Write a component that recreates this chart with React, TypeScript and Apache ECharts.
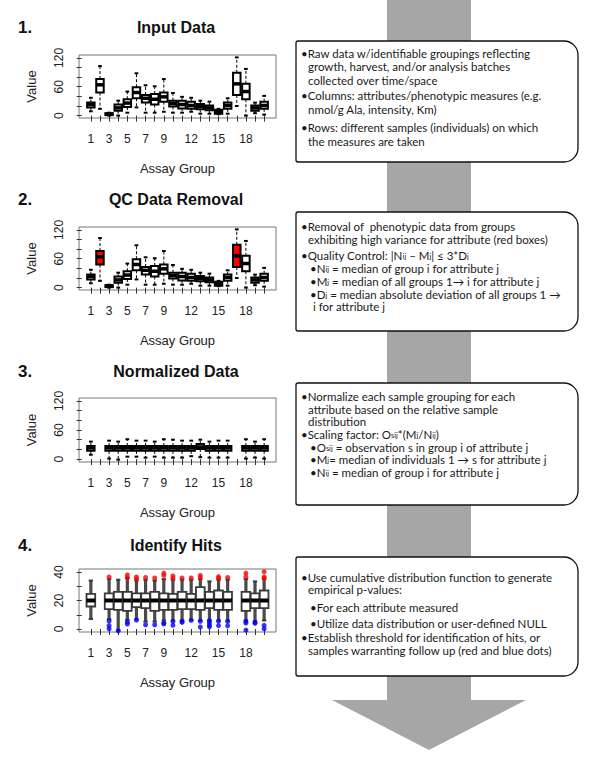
import React, { useEffect, useRef } from 'react';
import * as echarts from 'echarts';

// ---------- data ----------
const assayGroups = [1, 2, 3, 4, 5, 6, 7, 8, 9, 10, 11, 12, 13, 14, 15, 16, 17, 18, 19, 20];
const groupLabels = [1, 3, 5, 7, 9, 12, 15, 18];
const valueTicks = [0, 20, 40, 60, 80, 100, 120];
const valueLabels = [0, 60, 120];
const hitTicks = [0, 10, 20, 30, 40];
const hitLabels = [0, 20, 40];

// Panels 1 & 2: raw data boxes
const rawLow = [9, 14, 0, 0, 6, 17, 6, 6, 8, 6, 6, 8, 4, 4, 3, 4, 20, 0, 5, 2];
const rawQ1 = [17, 48, 1, 10, 18, 36, 27, 23, 29, 19, 15, 14, 13, 11, 4, 14, 43, 34, 10, 14];
const rawMedian = [23, 64, 3, 16, 26, 48, 36, 34, 39, 25, 23, 21, 19, 16, 8, 21, 66, 50, 16, 21];
const rawQ3 = [27, 76, 5, 23, 34, 59, 43, 45, 48, 31, 31, 29, 24, 21, 12, 27, 89, 66, 21, 29];
const rawHigh = [37, 103, 6, 31, 50, 88, 63, 61, 76, 47, 39, 37, 31, 29, 14, 36, 121, 97, 27, 41];
const qcFlagged = [2, 17];

// Panel 3: normalized
const normGroups = [1, 3, 4, 5, 6, 7, 8, 9, 10, 11, 12, 13, 14, 15, 16, 18, 19, 20];
const normLow = [9, 1, -1, 5, 5, 3, 5, 3, 3, 3, 6, 4, 3, 3, 3, 1, 3, 1];
const normQ1 = [17, 17, 17, 17, 17, 17, 17, 17, 17, 17, 17, 21, 17, 17, 17, 17, 17, 17];
const normMedian = [23, 23, 23, 23, 23, 23, 23, 23, 23, 23, 23, 25, 23, 23, 23, 23, 23, 23];
const normQ3 = [27, 27, 27, 27, 27, 27, 27, 27, 27, 27, 27, 31, 27, 27, 27, 27, 27, 27];
const normHigh = [36, 38, 36, 41, 38, 38, 36, 41, 40, 38, 38, 40, 36, 38, 38, 41, 36, 41];

// Panel 4: hits
const hitLow = [7, 6.8, -1.2, 6.4, 6.8, 5.2, 5.2, 6, 6, 6, 6.5, 6, 6, 6, 6, 6, 5.5, 6];
const hitQ1 = [15.8, 14, 13.4, 12.7, 15.3, 14.6, 12.7, 13.4, 13.4, 13.9, 13.9, 13.4, 14.6, 13.4, 13.4, 12.7, 14.6, 14.6];
const hitMedian = [20, 20, 20, 20, 20, 20, 20, 20, 20, 20, 20, 20, 20, 20, 20, 20, 20, 20];
const hitQ3 = [24.7, 25, 26, 26, 25, 25, 26, 25, 24.7, 26, 24.7, 29.4, 26, 27, 26, 26, 25, 27];
const hitHigh = [34, 35, 34.6, 35.8, 34, 34.6, 34, 35, 34.6, 34.6, 34.6, 35, 33.4, 34.6, 34.6, 35, 33.4, 35];
const hitRed = [[], [36.5], [], [38, 36], [36.5, 35], [36.2], [35.8], [39.2, 37.6], [37.2, 35.5], [35.8], [35.8], [37.6, 36.2], [], [36.8, 35.6], [36.2], [39.2, 36.5], [], [40.2, 36.6, 35.6]];
const hitBlue = [[], [5.6, 2.4, 0.2], [-1.2], [5, 3.5], [6.2], [3], [3], [4.2, 3.6], [5.2, 2.6], [5.4, 4.6], [6], [5.4, 1.4], [5.8, 4.2, 2.6, 1.6], [5.4, 2.4], [5.2, 2.2], [5.4, 4.2, -0.8], [4.6, 4], [2.6, 0.2]];

// ---------- text ----------
const FONT = 'Lato';
const boxTexts = [
  [
    { x: 301, y: 53, t: '•Raw data w/identifiable groupings reflecting' },
    { x: 308, y: 66, t: 'growth, harvest, and/or analysis batches' },
    { x: 308, y: 80, t: 'collected over time/space' },
    { x: 301, y: 95, t: '•Columns: attributes/phenotypic measures (e.g.' },
    { x: 308, y: 109, t: 'nmol/g Ala, intensity, Km)' },
    { x: 301, y: 127, t: '•Rows: different samples (individuals) on which' },
    { x: 308, y: 141, t: 'the measures are taken' },
  ],
  [
    { x: 301, y: 226, t: '•Removal of  phenotypic data from groups' },
    { x: 308, y: 239, t: 'exhibiting high variance for attribute (red boxes)' },
    { x: 301, y: 255, t: '•Quality Control: |N{s|ij} – M{s|j}| ≤ 3*D{s|j}' },
    { x: 310, y: 268, t: '•N{s|ij} = median of group i for attribute j' },
    { x: 310, y: 281, t: '•M{s|j} = median of all groups 1→ i for attribute j' },
    { x: 310, y: 294, t: '•D{s|j} = median absolute deviation of all groups 1 →' },
    { x: 313, y: 306, t: 'i for attribute j' },
  ],
  [
    { x: 301, y: 396, t: '•Normalize each sample grouping for each' },
    { x: 308, y: 409, t: 'attribute based on the relative sample' },
    { x: 308, y: 421, t: 'distribution' },
    { x: 301, y: 434, t: '•Scaling factor: O{s|sij}*(M{s|j}/N{s|ij})' },
    { x: 310, y: 447, t: '•O{s|sij} = observation s in group i of attribute j' },
    { x: 310, y: 459, t: '•M{s|j}= median of individuals 1 → s for attribute j' },
    { x: 310, y: 472, t: '•N{s|ij} = median of group i for attribute j' },
  ],
  [
    { x: 301, y: 577, t: '•Use cumulative distribution function to generate' },
    { x: 308, y: 589, t: 'empirical p-values:' },
    { x: 310, y: 607, t: '•For each attribute measured' },
    { x: 310, y: 623, t: '•Utilize data distribution or user-defined NULL' },
    { x: 301, y: 637, t: '•Establish threshold for identification of hits, or' },
    { x: 308, y: 650, t: 'samples warranting follow up (red and blue dots)' },
  ],
];
const boxFrames = [
  { y: 41, h: 121 },
  { y: 212, h: 119 },
  { y: 383, h: 122 },
  { y: 557, h: 119 },
];

const panels = [
  { num: '1.', title: 'Input Data', top: 55, height: 63, titleY: 19, min: -5, max: 126 },
  { num: '2.', title: 'QC Data Removal', top: 227, height: 63, titleY: 191, min: -5, max: 126 },
  { num: '3.', title: 'Normalized Data', top: 398, height: 64, titleY: 363, min: -6, max: 126 },
  { num: '4.', title: 'Identify Hits', top: 569, height: 63, titleY: 537, min: -2.1, max: 42.1 },
];

function boxRenderer(opt: { width: number; stroke: string; boxLine: number; whisker: string; whiskerWidth: number; dash: number[] | null; medianWidth: number }) {
  return (params: any, api: any) => {
    const x = api.value(0);
    const pLow = api.coord([x, api.value(1)]);
    const pQ1 = api.coord([x, api.value(2)]);
    const pMed = api.coord([x, api.value(3)]);
    const pQ3 = api.coord([x, api.value(4)]);
    const pHigh = api.coord([x, api.value(5)]);
    const flagged = api.value(6) === 1;
    const w = api.size([opt.width, 0])[0];
    const cx = pLow[0];
    const half = w / 2;
    const cap = w / 4;
    const wStyle: any = { stroke: opt.whisker, lineWidth: opt.whiskerWidth };
    if (opt.dash) wStyle.lineDash = opt.dash;
    return {
      type: 'group',
      children: [
        { type: 'line', shape: { x1: cx, y1: pQ3[1], x2: cx, y2: pHigh[1] }, style: wStyle },
        { type: 'line', shape: { x1: cx, y1: pQ1[1], x2: cx, y2: pLow[1] }, style: wStyle },
        { type: 'line', shape: { x1: cx - cap, y1: pHigh[1], x2: cx + cap, y2: pHigh[1] }, style: { stroke: opt.stroke, lineWidth: 2 } },
        { type: 'line', shape: { x1: cx - cap, y1: pLow[1], x2: cx + cap, y2: pLow[1] }, style: { stroke: opt.stroke, lineWidth: 2 } },
        {
          type: 'rect',
          shape: { x: cx - half, y: pQ3[1], width: w, height: pQ1[1] - pQ3[1] },
          style: { fill: flagged ? '#ff0000' : '#ffffff', stroke: opt.stroke, lineWidth: opt.boxLine },
        },
        { type: 'line', shape: { x1: cx - half, y1: pMed[1], x2: cx + half, y2: pMed[1] }, style: { stroke: '#000', lineWidth: opt.medianWidth } },
      ],
    };
  };
}

export default function App() {
  const ref = useRef<HTMLDivElement>(null);
  useEffect(() => {
    if (!ref.current) return;
    const chart = echarts.init(ref.current, null, { renderer: 'svg' });

    const rawData = assayGroups.map((g, i) => [g, rawLow[i], rawQ1[i], rawMedian[i], rawQ3[i], rawHigh[i], 0]);
    const qcData = assayGroups.map((g, i) => [g, rawLow[i], rawQ1[i], rawMedian[i], rawQ3[i], rawHigh[i], qcFlagged.includes(g) ? 1 : 0]);
    const normData = normGroups.map((g, i) => [g, normLow[i], normQ1[i], normMedian[i], normQ3[i], normHigh[i], 0]);
    const hitData = normGroups.map((g, i) => [g, hitLow[i], hitQ1[i], hitMedian[i], hitQ3[i], hitHigh[i], 0]);
    const redPts: number[][] = [];
    const bluePts: number[][] = [];
    normGroups.forEach((g, i) => {
      hitRed[i].forEach((v) => redPts.push([g, v]));
      hitBlue[i].forEach((v) => bluePts.push([g, v]));
    });

    const axisFont = { fontFamily: 'Liberation Sans', color: '#222' };

    const grids = panels.map((p) => ({
      left: 79, top: p.top, width: 197, height: p.height,
      show: true, borderColor: '#777', borderWidth: 1, backgroundColor: 'transparent',
      outerBoundsMode: 'none', containLabel: false,
    }));
    const xAxes = panels.map((p, i) => ({
      type: 'value', gridIndex: i, min: -0.3, max: 21.3, offset: 2,
      name: 'Assay Group', nameLocation: 'middle', nameGap: 42,
      nameTextStyle: { ...axisFont, fontSize: 13 },
      axisLine: { show: false },
      axisTick: { show: true, length: 6, customValues: assayGroups, lineStyle: { color: '#333', width: 1 } },
      axisLabel: { show: true, customValues: groupLabels, margin: 13, fontSize: 12, ...axisFont },
      splitLine: { show: false },
    }));
    const yAxes = panels.map((p, i) => ({
      type: 'value', gridIndex: i, min: p.min, max: p.max,
      name: 'Value', nameLocation: 'middle', nameGap: 41, nameRotate: 90,
      nameTextStyle: { ...axisFont, fontSize: 13 },
      axisLine: { show: false },
      axisTick: { show: true, length: 5, customValues: i === 3 ? hitTicks : valueTicks, lineStyle: { color: '#333', width: 1 } },
      axisLabel: { show: true, customValues: i === 3 ? hitLabels : valueLabels, rotate: 90, margin: 14, fontSize: 12, ...axisFont },
      splitLine: { show: false },
    }));

    const baseBox = { width: 0.82, stroke: '#000', boxLine: 2, whisker: '#000', whiskerWidth: 1, dash: [3, 2], medianWidth: 3.5 };

    const series: any[] = [
      { type: 'custom', xAxisIndex: 0, yAxisIndex: 0, data: rawData, renderItem: boxRenderer(baseBox), clip: false },
      { type: 'custom', xAxisIndex: 1, yAxisIndex: 1, data: qcData, renderItem: boxRenderer(baseBox), clip: false },
      { type: 'custom', xAxisIndex: 2, yAxisIndex: 2, data: normData, renderItem: boxRenderer(baseBox), clip: false },
      {
        type: 'custom', xAxisIndex: 3, yAxisIndex: 3, data: hitData, clip: false,
        renderItem: boxRenderer({ width: 0.95, stroke: '#3a3a3a', boxLine: 1.8, whisker: '#4a4a4a', whiskerWidth: 3.2, dash: null, medianWidth: 4 }),
      },
      { type: 'scatter', xAxisIndex: 3, yAxisIndex: 3, data: redPts, symbolSize: 5, itemStyle: { color: '#ff0000' }, z: 5 },
      { type: 'scatter', xAxisIndex: 3, yAxisIndex: 3, data: bluePts, symbolSize: 5, itemStyle: { color: '#0000ff' }, z: 5 },
    ];

    const titles: any[] = [];
    panels.forEach((p) => {
      titles.push({ text: p.title, left: 176, top: p.titleY, textAlign: 'center', padding: 0, textStyle: { fontFamily: 'Liberation Sans', fontSize: 16, fontWeight: 'bold', color: '#111' } });
      titles.push({ text: p.num, left: 18, top: p.titleY, padding: 0, textStyle: { fontFamily: 'Liberation Sans', fontSize: 17, fontWeight: 'bold', color: '#111' } });
    });

    const graphics: any[] = [
      { type: 'rect', shape: { x: 387, y: 0, width: 84, height: 701 }, style: { fill: '#a6a6a6' }, z: 0 },
      { type: 'polygon', shape: { points: [[332, 700], [526, 700], [429, 750]] }, style: { fill: '#a6a6a6' }, z: 0 },
    ];
    boxFrames.forEach((b) => {
      graphics.push({ type: 'rect', shape: { x: 296, y: b.y, width: 282, height: b.h, r: [2, 14, 14, 2] }, style: { fill: '#fff', stroke: '#111', lineWidth: 1.3 }, z: 1 });
    });
    boxTexts.forEach((lines) => {
      lines.forEach((l) => {
        graphics.push({
          type: 'text', x: l.x, y: l.y, z: 2,
          style: {
            text: l.t, fontFamily: FONT, fontSize: 11.5, lineHeight: 11, fill: '#1a1a1a', verticalAlign: 'middle',
            rich: { s: { fontFamily: FONT, fontSize: 7.5, lineHeight: 6, fill: '#1a1a1a', verticalAlign: 'bottom' } },
          },
        });
      });
    });

    chart.setOption({
      animation: false,
      backgroundColor: '#fff',
      title: titles,
      grid: grids,
      xAxis: xAxes,
      yAxis: yAxes,
      series,
      graphic: graphics,
    });
    return () => chart.dispose();
  }, []);
  return <div ref={ref} style={{ position: 'absolute', left: 0, top: 0, width: 600, height: 764 }} />;
}
